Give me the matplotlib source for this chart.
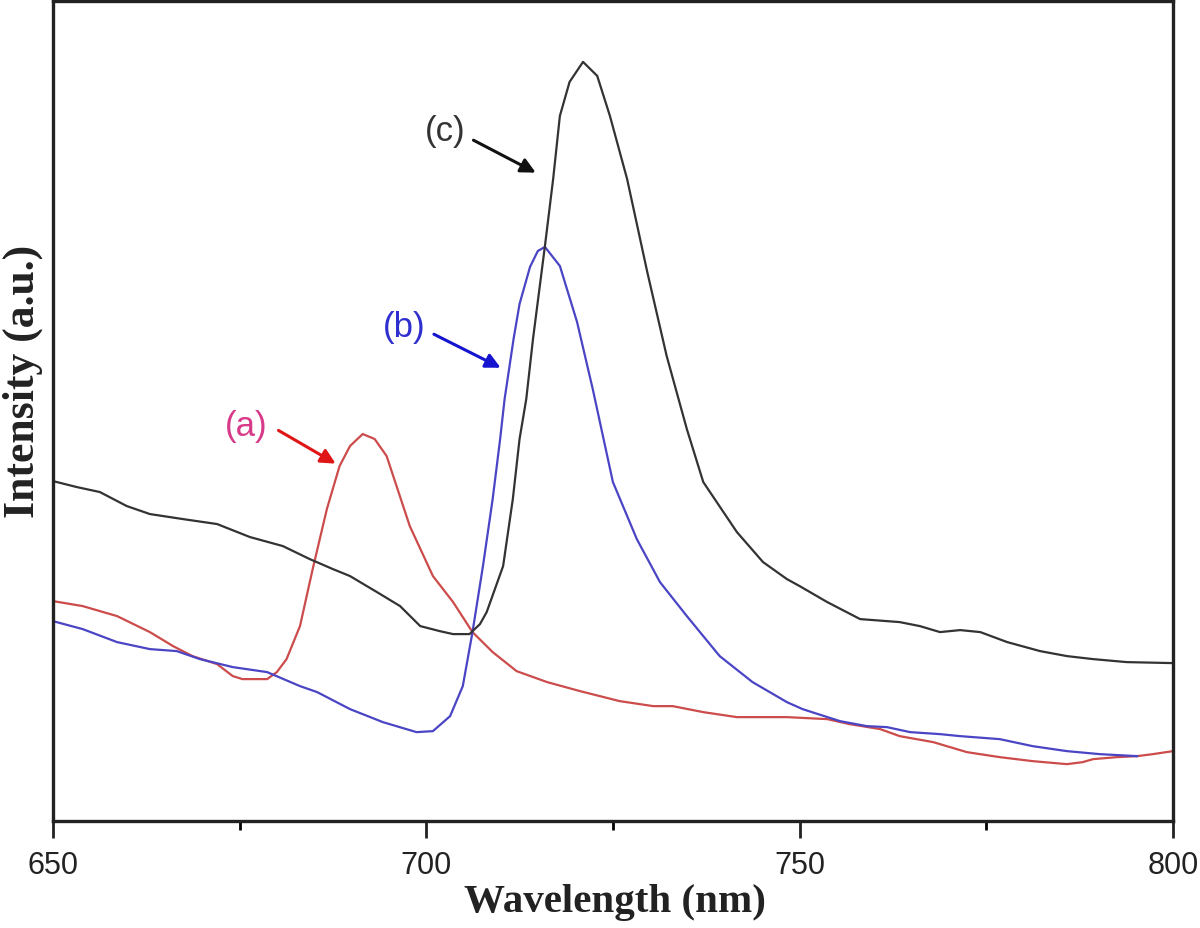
import matplotlib

matplotlib.use("Agg")
import matplotlib.pyplot as plt
from matplotlib.ticker import MultipleLocator

# (a) red curve
wl_a = [650.0, 654.0, 658.6, 663.0, 666.1, 668.7, 672.0, 674.1, 675.4, 678.7, 680.0, 681.3,
        683.1, 684.8, 686.7, 688.4, 689.8, 691.5, 693.1, 694.7, 697.8, 700.9, 703.6, 706.2,
        708.9, 712.1, 716.2, 720.6, 725.9, 730.4, 733.0, 737.1, 741.6, 748.3, 753.7, 756.7,
        760.8, 763.4, 767.9, 772.4, 776.8, 781.2, 785.8, 787.9, 789.3, 792.5, 795.2, 797.3, 800.0]
int_a = [220, 215, 205, 189, 175, 165, 157, 145, 142, 142, 149, 162,
         195, 252, 312, 355, 375, 387, 382, 365, 295, 245, 219, 189,
         169, 150, 139, 130, 120, 115, 115, 109, 104, 104, 102, 97,
         92, 85, 79, 69, 64, 60, 57, 59, 62, 64, 65, 67, 70]

# (b) blue curve
wl_b = [650.0, 654.0, 658.6, 663.0, 666.6, 669.7, 674.1, 678.7, 683.1, 685.4, 689.8, 694.2,
        698.7, 700.9, 703.2, 704.9, 706.2, 707.6, 708.9, 709.9, 710.5, 711.1, 711.7, 712.5,
        713.9, 714.95, 715.9, 717.9, 720.2, 722.3, 725.0, 728.2, 731.3, 734.9, 739.3, 743.7,
        748.3, 750.4, 755.4, 759.0, 761.7, 764.8, 768.8, 771.5, 776.8, 781.2, 785.8, 790.2, 795.2]
int_b = [200, 192, 179, 172, 170, 162, 154, 149, 135, 129, 112, 99,
         89, 90, 105, 135, 189, 255, 322, 382, 422, 452, 482, 517,
         554, 570, 574, 555, 499, 432, 339, 282, 239, 205, 165, 139,
         119, 112, 100, 95, 94, 89, 87, 85, 82, 75, 70, 67, 65]

# (c) black curve
wl_c = [650.0, 653.2, 656.3, 659.9, 663.0, 667.4, 672.0, 676.4, 680.8, 684.4, 687.5, 689.8,
        693.4, 696.5, 699.2, 701.8, 703.6, 705.8, 707.2, 708.1, 710.3, 711.6, 712.5, 713.4,
        714.3, 715.9, 717.0, 717.9, 719.2, 721.0, 722.9, 724.6, 726.9, 729.6, 732.2, 734.9,
        737.1, 741.6, 745.1, 748.3, 750.0, 753.7, 758.1, 763.4, 766.1, 768.8, 771.5, 774.2,
        777.8, 782.2, 785.8, 789.3, 793.8, 800.0]
int_c = [340, 334, 329, 315, 307, 302, 297, 284, 275, 262, 252, 245,
         229, 215, 195, 190, 187, 187, 197, 209, 255, 322, 382, 422,
         482, 575, 642, 705, 739, 759, 745, 705, 642, 549, 465, 392,
         339, 289, 259, 242, 235, 219, 202, 199, 195, 189, 191, 189,
         179, 170, 165, 162, 159, 158]

labels = ["(a)", "(b)", "(c)"]
label_xy = [(675.9, 396), (697.1, 494), (702.6, 690)]
arrow_tail = [(679.9, 392), (700.7, 488), (706.0, 682)]
arrow_head = [(688.2, 356), (710.3, 452), (715.0, 647)]
line_colors = ["#cc4b4b", "#4a45c4", "#333333"]
text_colors = ["#d83a8a", "#2f2fd0", "#333333"]
arrow_colors = ["#e01515", "#1515d0", "#111111"]

fig = plt.figure(figsize=(12, 9.29), dpi=100)
ax = fig.add_axes([0.044, 0.115, 0.9335, 0.883])

for wl, val, col in zip([wl_a, wl_b, wl_c], [int_a, int_b, int_c], line_colors):
    ax.plot(wl, val, color=col, lw=1.6)

for lab, xy, tail, head, tc, ac in zip(labels, label_xy, arrow_tail, arrow_head, text_colors, arrow_colors):
    ax.text(xy[0], xy[1], lab, color=tc, fontsize=25, ha="center", va="center",
            family="Liberation Sans")
    ax.annotate("", xy=head, xytext=tail,
                arrowprops=dict(arrowstyle="-|>", color=ac, lw=2.2, mutation_scale=22))

ax.set_xlim(650, 800)
ax.set_ylim(0, 820)
ax.xaxis.set_major_locator(MultipleLocator(50))
ax.xaxis.set_minor_locator(MultipleLocator(25))
ax.tick_params(axis="x", which="major", direction="out", length=12, width=2, pad=9,
               labelsize=22, colors="#222222")
ax.tick_params(axis="x", which="minor", direction="out", length=6.5, width=2)
ax.set_yticks([])
for lbl in ax.get_xticklabels():
    lbl.set_family("Liberation Sans")
for sp in ax.spines.values():
    sp.set_linewidth(2.4)
    sp.set_color("#222222")

fig.text(0.5125, 0.029, "Wavelength (nm)", ha="center", va="center", fontsize=29.5,
         fontweight="bold", family="Liberation Serif", color="#222222")
fig.text(0.019, 0.589, "Intensity (a.u.)", ha="center", va="center", rotation=90,
         fontsize=31.5, fontweight="bold", family="Liberation Serif", color="#222222")

fig.savefig("out.png", dpi=100)
